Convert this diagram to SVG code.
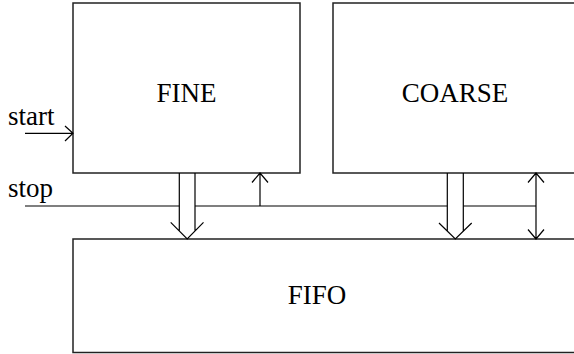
<svg xmlns="http://www.w3.org/2000/svg" width="574" height="354" viewBox="0 0 574 354">
<style>
.box{fill:#fff;stroke:#222;stroke-width:1.5}
.lbl{font-family:"Liberation Serif","Times New Roman",serif;font-size:27px;fill:#000}
.ln{fill:none;stroke:#000;stroke-width:1.2}
</style>
<rect width="574" height="354" fill="#fff"/>
<g id="fine">
<rect class="box" x="73" y="3" width="227" height="170"/>
<text class="lbl" x="186.5" y="101.7" text-anchor="middle">FINE</text>
</g>
<g id="coarse">
<rect class="box" x="333" y="3" width="250" height="170"/>
<text class="lbl" x="455" y="101.7" text-anchor="middle">COARSE</text>
</g>
<g id="fifo">
<rect class="box" x="73" y="239" width="510" height="113.5"/>
<text class="lbl" x="317" y="304" text-anchor="middle">FIFO</text>
</g>
<g id="connectors">
<text class="lbl" x="8" y="125">start</text>
<text class="lbl" x="8" y="197">stop</text>
<path class="ln" d="M25 133.3H73M65 126L73 133.3L65 141"/>
<path class="ln" d="M25 206H179.3M195 206H447.3M463.3 206H536"/>
<path class="ln" d="M179.3 173V230.6M195 173V230.6M170.7 222.3L187.2 239L203.5 222.3"/>
<path class="ln" d="M447.3 173V231M463.3 173V231M439 223L455.3 239L471.7 223"/>
<path class="ln" d="M260 206V173M252 182.5L260 173L268 182.5"/>
<path class="ln" d="M536 173V239M528 182.5L536 173L544 182.5M528 229.5L536 239L544 229.5"/>
</g>
</svg>
